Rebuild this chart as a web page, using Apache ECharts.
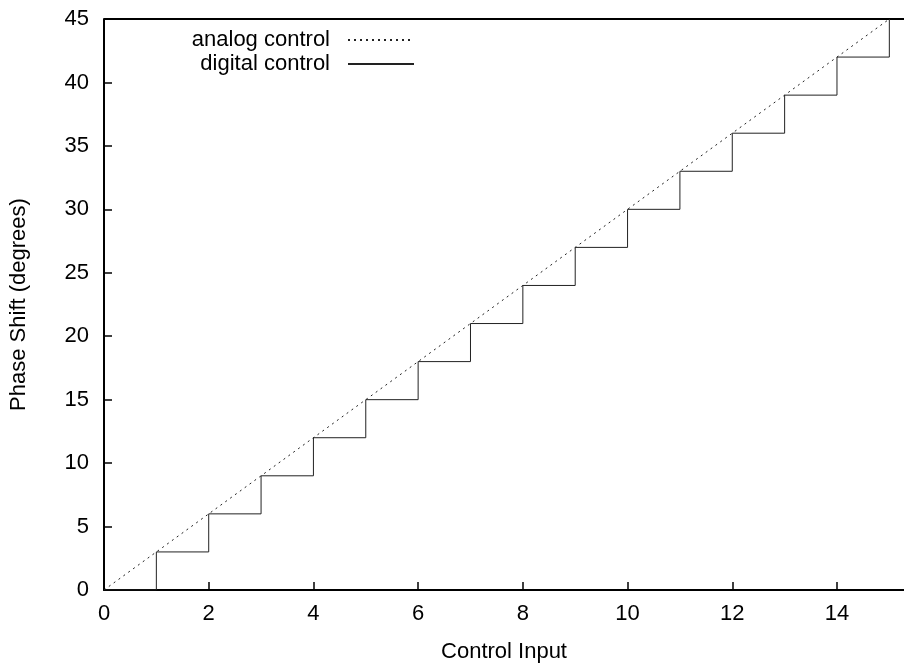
<!DOCTYPE html>
<html>
<head>
<meta charset="utf-8">
<script src="https://cdn.jsdelivr.net/npm/echarts@6/dist/echarts.min.js"></script>
<style>
  html, body { margin: 0; padding: 0; background: #fff; }
  #main { width: 904px; height: 665px; }
</style>
</head>
<body>
<div id="main"></div>
<script>
var analogX = [0, 15];
var analogY = [0, 45];
var digitalX = [0, 1, 2, 3, 4, 5, 6, 7, 8, 9, 10, 11, 12, 13, 14, 15];
var digitalY = [0, 3, 6, 9, 12, 15, 18, 21, 24, 27, 30, 33, 36, 39, 42, 45];

function pairs(xs, ys) {
  var out = [];
  for (var i = 0; i < xs.length; i++) out.push([xs[i], ys[i]]);
  return out;
}

var chart = echarts.init(document.getElementById('main'));
var font = 'Liberation Sans, Arial, sans-serif';

// one legend per line so the samples line up on the right
function legendFor(name, top) {
  return {
    data: [name],
    right: 489, top: top,
    padding: 0,
    align: 'right',
    itemWidth: 66, itemHeight: 10, itemGap: 0,
    itemStyle: { opacity: 0 },
    textStyle: { fontSize: 22, color: '#000', fontFamily: font, padding: [0, 13, 0, 0] }
  };
}

var option = {
  animation: false,
  textStyle: { fontFamily: font },
  grid: { left: 104, right: 0, top: 19, bottom: 75, outerBoundsMode: 'none', containLabel: false },
  legend: [
    legendFor('analog control', 29),
    legendFor('digital control', 53)
  ],
  xAxis: {
    type: 'value',
    min: 0, max: 15.28, interval: 2,
    name: 'Control Input',
    nameLocation: 'middle',
    nameGap: 51,
    nameTextStyle: { fontSize: 22, color: '#000' },
    axisLine: { lineStyle: { color: '#000', width: 2 } },
    axisTick: { inside: true, length: 8, lineStyle: { color: '#000', width: 1.5 } },
    axisLabel: { fontSize: 22, color: '#000', margin: 13, showMaxLabel: false },
    splitLine: { show: false }
  },
  yAxis: {
    type: 'value',
    min: 0, max: 45, interval: 5,
    name: 'Phase Shift (degrees)',
    nameLocation: 'middle',
    nameGap: 74,
    nameTextStyle: { fontSize: 22, color: '#000' },
    axisLine: { show: true, lineStyle: { color: '#000', width: 2 } },
    axisTick: { show: true, inside: true, length: 8, lineStyle: { color: '#000', width: 1.5 } },
    axisLabel: { fontSize: 22, color: '#000', margin: 15 },
    splitLine: { show: false }
  },
  series: [
    {
      name: 'analog control',
      type: 'line',
      data: pairs(analogX, analogY),
      symbol: 'none',
      lineStyle: { color: '#222', width: 1, type: [2, 4] },
      itemStyle: { color: '#222' }
    },
    {
      name: 'digital control',
      type: 'line',
      step: 'end',
      data: pairs(digitalX, digitalY),
      symbol: 'none',
      lineStyle: { color: '#222', width: 1 },
      itemStyle: { color: '#222' }
    }
  ],
  graphic: [
    {
      type: 'line',
      shape: { x1: 104, y1: 19, x2: 904, y2: 19 },
      style: { stroke: '#000', lineWidth: 2 }
    }
  ]
};
chart.setOption(option);
</script>
</body>
</html>
